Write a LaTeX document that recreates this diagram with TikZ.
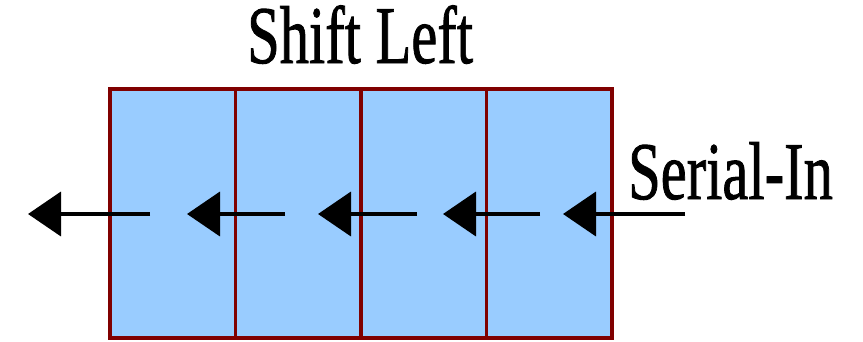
\documentclass[tikz,border=0pt]{standalone}
\usepackage{graphicx}
\usepackage{fontspec}
\setmainfont{Liberation Serif}
\newfontfamily\labelfont[FakeBold=1.2]{Liberation Serif}
\usetikzlibrary{arrows.meta,positioning}
\definecolor{cellfill}{HTML}{99CCFF}
\definecolor{cellborder}{HTML}{800000}
\definecolor{ink}{HTML}{000000}
\tikzset{
  cellbox/.style={draw=cellborder, line width=3.5pt, fill=cellfill, minimum width=125.5pt, minimum height=249pt, inner sep=0pt, outer sep=0pt},
  shiftarr/.style={-{Triangle[length=33pt, width=44pt]}, line width=4pt, draw=ink},
  lbl/.style={inner sep=0pt, anchor=base west, text=ink, font=\labelfont\fontsize{58.5}{60}\selectfont}
}
\begin{document}
\begin{tikzpicture}[x=1pt, y=-1pt]
  \useasboundingbox (0,0) rectangle (863,341);

  \node[lbl] (title) at (247,63) {\scalebox{1}[1.4]{Shift Left}};

  \node[cellbox, anchor=north west] (c1) at (110,89) {};
  \node[cellbox, right=0pt of c1] (c2) {};
  \node[cellbox, right=0pt of c2] (c3) {};
  \node[cellbox, right=0pt of c3] (c4) {};

  \node[lbl] (serin) at (628,199) {\scalebox{1}[1.4]{Serial-In}};

  \coordinate (h0) at (28,214);
  \coordinate (t0) at (150,214);
  \coordinate (h1) at (187,214);
  \coordinate (t1) at (285,214);
  \coordinate (h2) at (318,214);
  \coordinate (t2) at (417,214);
  \coordinate (h3) at (443,214);
  \coordinate (t3) at (540,214);
  \coordinate (h4) at (563,214);
  \coordinate (t4) at (685,214);

  \draw[shiftarr] (t0) -- (h0);
  \draw[shiftarr] (t1) -- (h1);
  \draw[shiftarr] (t2) -- (h2);
  \draw[shiftarr] (t3) -- (h3);
  \draw[shiftarr] (t4) -- (h4);
\end{tikzpicture}
\end{document}
